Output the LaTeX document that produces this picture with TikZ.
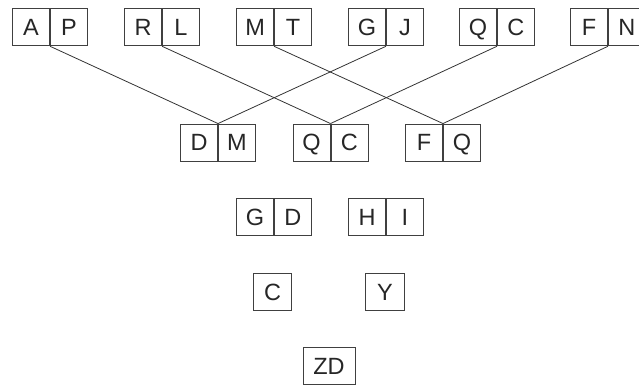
\documentclass[tikz,border=0pt]{standalone}
\usepackage{fontspec}
\setmainfont{Liberation Sans}
\begin{document}
\begin{tikzpicture}[x=1pt,y=-1pt,
  cell/.style={draw=black!75, line width=0.9pt, minimum width=37pt, minimum height=37pt,
    inner sep=0pt, font=\fontsize{23.5}{26}\selectfont, text=black!85,
    text height=16.8pt, text depth=0pt},
  link/.style={draw=black!80, line width=0.8pt}]
\useasboundingbox (0,0) rectangle (639,386);
% top row
\node[cell, anchor=east] (ap1) at (50,27.3) {A};
\node[cell, anchor=west] (ap2) at (50,27.3) {P};
\node[cell, anchor=east] (rl1) at (162,27.3) {R};
\node[cell, anchor=west] (rl2) at (162,27.3) {L};
\node[cell, anchor=east] (mt1) at (274,27.3) {M};
\node[cell, anchor=west] (mt2) at (274,27.3) {T};
\node[cell, anchor=east] (gj1) at (386,27.3) {G};
\node[cell, anchor=west] (gj2) at (386,27.3) {J};
\node[cell, anchor=east] (qc1) at (497,27.3) {Q};
\node[cell, anchor=west] (qc2) at (497,27.3) {C};
\node[cell, anchor=east] (fn1) at (608,27.3) {F};
\node[cell, anchor=west] (fn2) at (608,27.3) {N};
% second row
\node[cell, anchor=east] (dm1) at (218,142.5) {D};
\node[cell, anchor=west] (dm2) at (218,142.5) {M};
\node[cell, anchor=east] (qd1) at (330.5,142.5) {Q};
\node[cell, anchor=west] (qd2) at (330.5,142.5) {C};
\node[cell, anchor=east] (fq1) at (443,142.5) {F};
\node[cell, anchor=west] (fq2) at (443,142.5) {Q};
% third row
\node[cell, anchor=east] (gd1) at (274,217) {G};
\node[cell, anchor=west] (gd2) at (274,217) {D};
\node[cell, anchor=east] (hi1) at (386,217) {H};
\node[cell, anchor=west] (hi2) at (386,217) {I};
% fourth row
\node[cell, minimum width=38.5pt] (c) at (272.5,292) {C};
\node[cell, minimum width=38.5pt] (y) at (385,292) {Y};
% fifth row
\node[cell, minimum width=52pt] (zd) at (329,366) {ZD};
% connectors
\draw[link] (ap1.south east) -- (dm1.north east);
\draw[link] (rl1.south east) -- (qd1.north east);
\draw[link] (mt1.south east) -- (fq1.north east);
\draw[link] (gj1.south east) -- (dm1.north east);
\draw[link] (qc1.south east) -- (qd1.north east);
\draw[link] (fn1.south east) -- (fq1.north east);
\end{tikzpicture}
\end{document}
